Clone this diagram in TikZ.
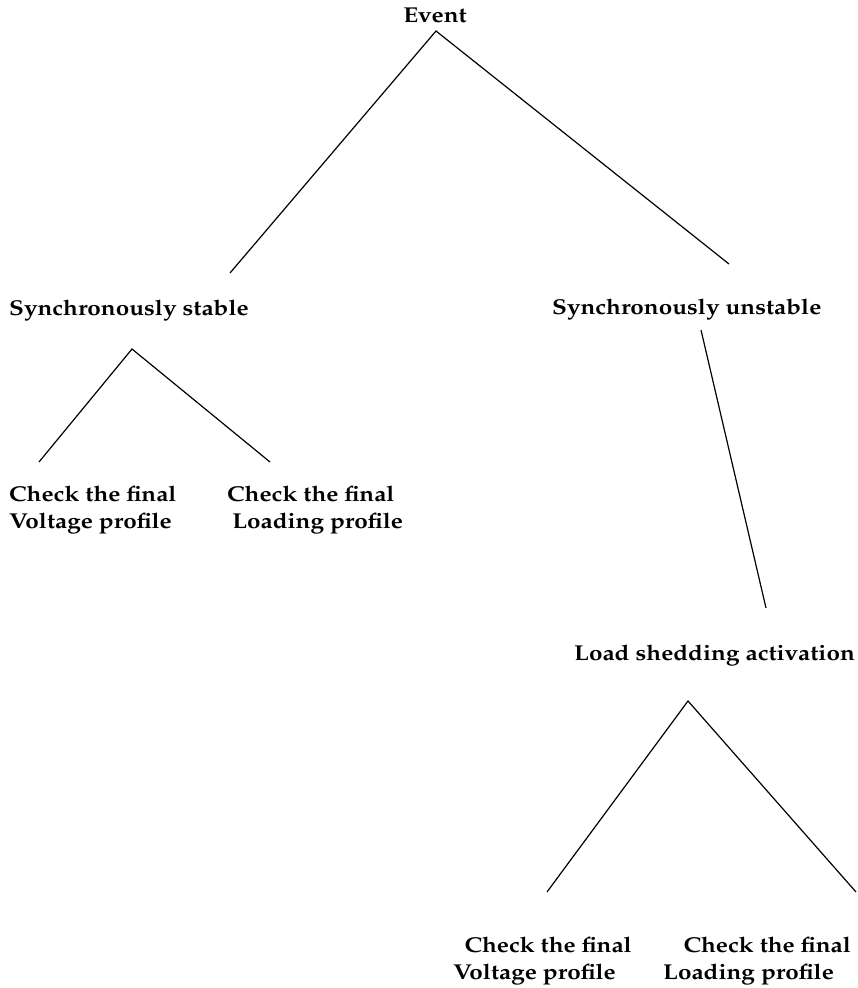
\documentclass[tikz,border=0pt]{standalone}
\usepackage[T1]{fontenc}
\renewcommand{\rmdefault}{ppl}
\newcommand{\wtxt}[1]{\scalebox{1.13}[1]{#1}}
\newcommand{\wtwo}[2]{\scalebox{1.13}[1]{\begin{tabular}{@{}l@{}}#1\\#2\end{tabular}}}
\begin{document}
\begin{tikzpicture}[x=1pt,y=-1pt,
  lbl/.style={inner sep=0pt,font=\fontsize{21.5}{27}\selectfont\bfseries},
  multi/.style={lbl,anchor=north west},
  conn/.style={line width=1.2pt,black}]
\useasboundingbox (0,0) rectangle (858,988);
% labels
\node[lbl,anchor=base] (event) at (435,22) {\wtxt{Event}};
\node[lbl,anchor=base west] (ss) at (9,315) {\wtxt{Synchronously stable}};
\node[lbl,anchor=base west] (su) at (552,314) {\wtxt{Synchronously unstable}};
\node[multi] (cv1) at (9,482) {\wtwo{Check the final}{Voltage profile}};
\node[multi] (cl1) at (227,482) {\wtwo{Check the final}{\hspace*{4.5pt}Loading profile}};
\node[lbl,anchor=base west] (ls) at (574,660) {\wtxt{Load shedding activation}};
\node[multi] (cv2) at (453,933) {\wtwo{\hspace*{10pt}Check the final}{Voltage profile}};
\node[multi] (cl2) at (663,933) {\wtwo{\hspace*{18pt}Check the final}{Loading profile}};
% connector end points
\coordinate (eA) at (436,31);
\coordinate (ssT) at (230,273);
\coordinate (suT) at (729,264);
\coordinate (ssA) at (132,349);
\coordinate (cv1T) at (39,462);
\coordinate (cl1T) at (270,462);
\coordinate (suB) at (701,330);
\coordinate (lsT) at (766,608);
\coordinate (lsA) at (688,701);
\coordinate (cv2T) at (547,892);
\coordinate (cl2T) at (856,892);
% connectors
\draw[conn] (ssT) -- (eA) -- (suT);
\draw[conn] (cv1T) -- (ssA) -- (cl1T);
\draw[conn] (suB) -- (lsT);
\draw[conn] (cv2T) -- (lsA) -- (cl2T);
\end{tikzpicture}
\end{document}
